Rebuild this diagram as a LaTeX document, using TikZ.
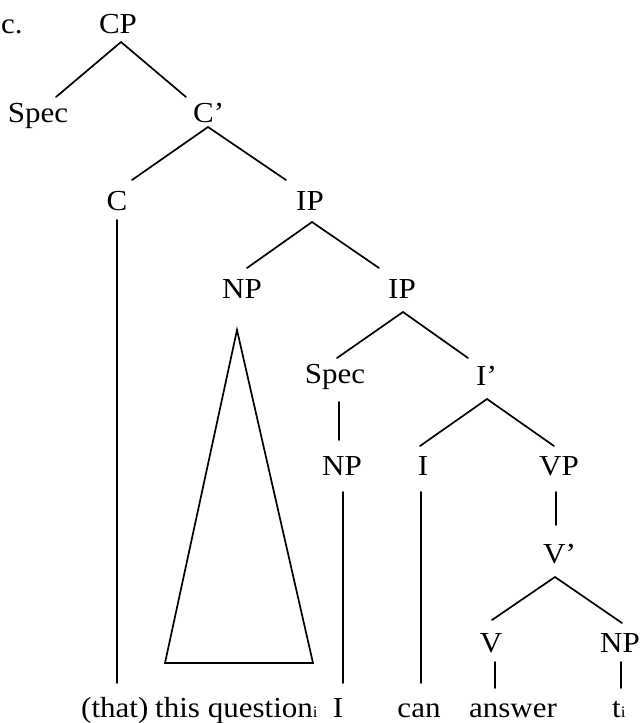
\documentclass[tikz,border=0pt]{standalone}
\usepackage{fontspec}
\setmainfont{Liberation Serif}[FakeStretch=1.07]
\newcommand{\subi}{{\fontsize{16}{16}\selectfont i}}
\begin{document}
\begin{tikzpicture}[x=1pt,y=-1pt,
  lab/.style={inner sep=0pt,font=\fontsize{29}{34}\selectfont},
  edge/.style={line width=1.7pt,line cap=round}]
\useasboundingbox (0,0) rectangle (641,723);
% labels
\node[lab,anchor=base west] (ex) at (1,33) {c.};
\node[lab,anchor=base] (CP) at (118,33) {CP};
\node[lab,anchor=base] (Spa) at (38,122) {Spec};
\node[lab,anchor=base west] (Cp) at (193,122) {C’};
\node[lab,anchor=base] (C) at (117,210) {C};
\node[lab,anchor=base] (IPa) at (310,210) {IP};
\node[lab,anchor=base] (NPa) at (242,298) {NP};
\node[lab,anchor=base] (IPb) at (402,298) {IP};
\node[lab,anchor=base] (Spb) at (335,383) {Spec};
\node[lab,anchor=base west] (Ip) at (476,385) {I’};
\node[lab,anchor=base] (NPb) at (342,475) {NP};
\node[lab,anchor=base] (I) at (423,475) {I};
\node[lab,anchor=base] (VP) at (559,475) {VP};
\node[lab,anchor=base west] (Vp) at (543,563) {V’};
\node[lab,anchor=base] (V) at (491,652) {V};
\node[lab,anchor=base] (NPc) at (620,652) {NP};
% words
\node[lab,anchor=base west] (that) at (81,717) {(that)};
\node[lab,anchor=base west] (thisq) at (155,717) {this question\subi};
\node[lab,anchor=base] (wI) at (338,717) {I};
\node[lab,anchor=base] (can) at (419,717) {can};
\node[lab,anchor=base] (answer) at (513,717) {answer};
\node[lab,anchor=base west] (ti) at (612,717) {t\subi};
% connectors
\draw[edge] ([shift={(3,9)}]CP.base) -- ([shift={(18,-25)}]Spa.base);
\draw[edge] ([shift={(3,9)}]CP.base) -- ([shift={(-7,-25)}]Cp.base west);
\draw[edge] ([shift={(15,5)}]Cp.base west) -- ([shift={(15,-30)}]C.base);
\draw[edge] ([shift={(15,5)}]Cp.base west) -- ([shift={(-24,-30)}]IPa.base);
\draw[edge] ([shift={(0,10)}]C.base) -- ([shift={(36,-34)}]that.base west);
\draw[edge] ([shift={(2,12)}]IPa.base) -- ([shift={(5,-30)}]NPa.base);
\draw[edge] ([shift={(2,12)}]IPa.base) -- ([shift={(-23,-30)}]IPb.base);
\draw[edge,line join=miter] ([shift={(-5,32)}]NPa.base) -- ([shift={(10,-54)}]thisq.base west)
   -- ([shift={(158,-54)}]thisq.base west) -- cycle;
\draw[edge] ([shift={(1,14)}]IPb.base) -- ([shift={(2,-25)}]Spb.base);
\draw[edge] ([shift={(1,14)}]IPb.base) -- ([shift={(-8,-27)}]Ip.base west);
\draw[edge] ([shift={(4,19)}]Spb.base) -- ([shift={(-3,-35)}]NPb.base);
\draw[edge] ([shift={(11,14)}]Ip.base west) -- ([shift={(-3,-29)}]I.base);
\draw[edge] ([shift={(11,14)}]Ip.base west) -- ([shift={(-5,-29)}]VP.base);
\draw[edge] ([shift={(1,17)}]NPb.base) -- ([shift={(5,-34)}]wI.base);
\draw[edge] ([shift={(-2,17)}]I.base) -- ([shift={(2,-34)}]can.base);
\draw[edge] ([shift={(-3,17)}]VP.base) -- ([shift={(13,-38)}]Vp.base west);
\draw[edge] ([shift={(12,14)}]Vp.base west) -- ([shift={(1,-32)}]V.base);
\draw[edge] ([shift={(12,14)}]Vp.base west) -- ([shift={(2,-29)}]NPc.base);
\draw[edge] ([shift={(4,10)}]V.base) -- ([shift={(-18,-29)}]answer.base);
\draw[edge] ([shift={(1,10)}]NPc.base) -- ([shift={(9,-29)}]ti.base west);
\end{tikzpicture}
\end{document}
